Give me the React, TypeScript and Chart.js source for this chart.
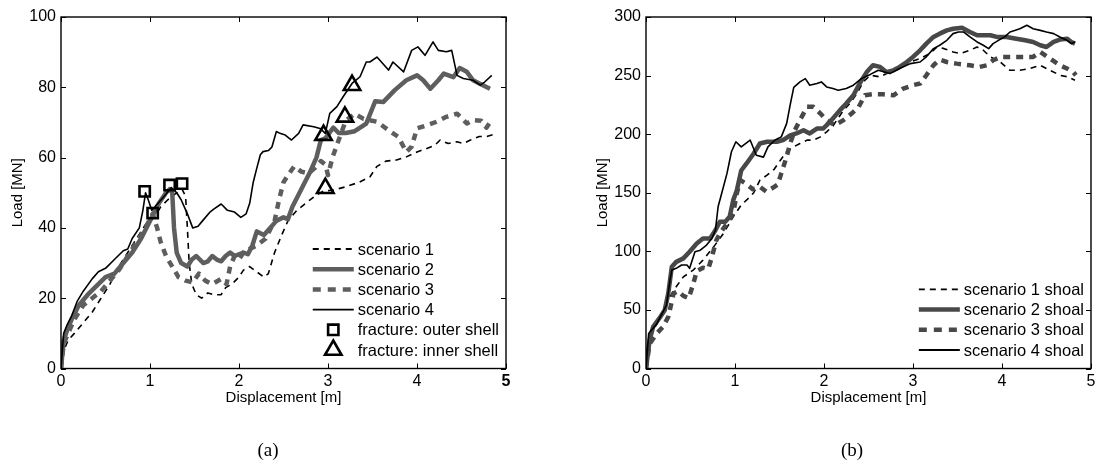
import React, { useEffect, useRef } from 'react';
import { Chart, registerables } from 'chart.js';

Chart.register(...registerables);

const FONT = "'Liberation Sans', Arial, Helvetica, sans-serif";

type Pt = [number, number];

// ---------- (a) ----------
const scenario1A: Pt[] = [[0,0],[0.03,5],[0.08,8],[0.15,10],[0.25,13],[0.35,16],[0.45,20],[0.55,24],[0.65,29],[0.75,33],[0.85,37],[0.95,41],[1.05,43],[1.12,46],[1.2,48],[1.3,50],[1.36,51],[1.4,49],[1.42,40],[1.44,30],[1.47,24],[1.52,21],[1.58,20],[1.65,21.5],[1.72,21],[1.8,21],[1.85,23],[1.92,24],[2.0,26],[2.05,28],[2.12,29],[2.2,27.5],[2.28,26],[2.33,27],[2.4,33],[2.48,38],[2.55,42],[2.65,45],[2.75,47],[2.85,49],[2.95,50.5],[3.05,50.7],[3.2,51.7],[3.35,53],[3.47,54.5],[3.55,57.5],[3.65,59],[3.77,59.3],[3.88,60.2],[4.0,61.6],[4.11,62.6],[4.2,63.5],[4.26,65],[4.35,64],[4.45,64.5],[4.52,64],[4.6,65],[4.7,66],[4.78,66],[4.85,66.5]];
const scenario2A: Pt[] = [[0,0],[0.03,8],[0.07,11],[0.12,14],[0.2,18],[0.3,21],[0.4,23.5],[0.5,26],[0.6,27],[0.7,30],[0.8,33],[0.9,37],[1.0,42],[1.1,47],[1.18,50],[1.22,51],[1.25,50],[1.27,40],[1.3,33],[1.35,30],[1.42,29],[1.47,31],[1.52,32],[1.6,30],[1.65,30.5],[1.7,32],[1.75,31],[1.8,30.5],[1.85,32],[1.9,33],[1.95,32],[2.0,32.5],[2.05,33],[2.1,32.5],[2.15,35],[2.2,39],[2.28,38],[2.35,40],[2.42,42],[2.5,43],[2.55,42.5],[2.6,46],[2.7,51],[2.8,56],[2.87,60],[2.92,65],[2.97,65.5],[3.06,68.5],[3.12,67],[3.2,67],[3.3,67.5],[3.43,69.7],[3.53,76],[3.62,75.8],[3.75,79.2],[3.88,82],[4.0,83.4],[4.07,82],[4.15,79.6],[4.24,82],[4.3,83.9],[4.41,82.9],[4.48,85.5],[4.56,84.4],[4.63,82],[4.74,80.6],[4.82,79.6]];
const scenario3A: Pt[] = [[0,0],[0.03,7],[0.08,10],[0.15,14],[0.25,18],[0.35,20],[0.45,22],[0.55,25],[0.65,28],[0.75,32],[0.85,36],[0.95,40],[1.03,44],[1.08,40],[1.12,36],[1.18,32],[1.25,29],[1.32,26],[1.4,25],[1.48,24.5],[1.55,27],[1.62,25],[1.7,24],[1.8,25.5],[1.86,24],[1.9,29],[1.95,32],[2.0,31],[2.05,33],[2.12,34],[2.2,35],[2.3,37],[2.4,42],[2.45,48],[2.5,53],[2.55,55],[2.62,57.5],[2.7,56],[2.78,55.5],[2.85,57],[2.92,59],[2.97,58],[3.0,55],[3.05,60],[3.12,65],[3.2,70.5],[3.3,72.5],[3.4,71],[3.55,70.2],[3.68,67.8],[3.79,65.9],[3.88,61.6],[3.94,63.1],[4.0,68.3],[4.11,69.2],[4.22,70.2],[4.33,71.6],[4.45,72.5],[4.56,69.7],[4.63,70.7],[4.72,70.5],[4.78,68.5],[4.82,70],[4.85,69]];
const scenario4A: Pt[] = [[0,0],[0.03,10],[0.07,12.5],[0.12,15],[0.18,19],[0.25,22],[0.35,25.5],[0.42,27.5],[0.5,28.5],[0.6,31],[0.7,33.5],[0.75,34],[0.8,37],[0.88,40],[0.92,45],[0.95,50],[0.98,48],[1.02,45],[1.09,47],[1.16,49],[1.24,51.5],[1.3,50],[1.35,48],[1.42,44],[1.48,40],[1.54,40.5],[1.59,42],[1.67,44.4],[1.72,45.4],[1.8,46.8],[1.87,45],[1.95,44.5],[2.02,43],[2.08,44],[2.12,47],[2.16,53],[2.2,57],[2.24,60.8],[2.27,61.7],[2.33,62],[2.37,63],[2.42,67.4],[2.46,66.9],[2.52,66.4],[2.59,65],[2.67,66.9],[2.72,69.3],[2.84,68.8],[2.91,68.3],[2.97,66.9],[3.02,72.6],[3.1,74.5],[3.17,77.3],[3.27,81.1],[3.36,83],[3.43,87.2],[3.47,87.2],[3.55,88.6],[3.68,84.9],[3.73,87.2],[3.85,84.4],[3.94,90.5],[4.01,91.5],[4.09,89.1],[4.18,92.9],[4.24,90.5],[4.33,90.1],[4.39,90.5],[4.45,83.4],[4.52,82.5],[4.63,82],[4.71,80.6],[4.76,81.5],[4.84,83.4]];
const outerShellA: Pt[] = [[0.94,50.4],[1.03,44.2],[1.22,52.2],[1.36,52.6]];
const innerShellA: Pt[] = [[2.95,66.4],[3.19,71.6],[3.27,80.6],[2.97,51.3]];

// ---------- (b) ----------
const scenario1B: Pt[] = [[0,0],[0.04,26.5],[0.1,35],[0.17,45],[0.23,55],[0.31,66.8],[0.42,78.2],[0.53,83.9],[0.64,92.5],[0.76,103.8],[0.87,115.2],[0.98,129.5],[1.07,139.5],[1.17,146.6],[1.21,150],[1.28,160.8],[1.36,165],[1.44,170],[1.51,177.8],[1.58,185],[1.66,189.2],[1.73,192],[1.81,194.9],[1.88,194.9],[1.96,197.7],[2.03,202],[2.1,207],[2.22,220.5],[2.29,226.1],[2.37,234.7],[2.44,244.6],[2.52,250.3],[2.63,248.9],[2.74,253.1],[2.85,257.4],[2.97,261.6],[3.08,264.5],[3.19,268.8],[3.27,274.4],[3.35,273],[3.45,270.2],[3.53,268.8],[3.64,271.6],[3.72,274.4],[3.79,271.6],[3.87,265.9],[3.98,261.6],[4.09,254.5],[4.2,254.5],[4.31,256],[4.43,258.8],[4.54,254.5],[4.65,250.3],[4.74,248.9],[4.82,246]];
const scenario2B: Pt[] = [[0,0],[0.04,24],[0.08,35.5],[0.16,44],[0.21,49.7],[0.25,64],[0.29,86.8],[0.34,91],[0.42,94],[0.49,99.6],[0.57,106.7],[0.64,111],[0.72,111],[0.78,118],[0.83,125.2],[0.89,125.2],[0.94,129.5],[0.98,143.7],[1.02,152],[1.07,169],[1.13,175],[1.21,183.5],[1.28,192],[1.36,193.5],[1.47,193.5],[1.54,195],[1.62,199],[1.69,200.6],[1.77,203.4],[1.84,200.6],[1.92,204.8],[1.99,204.8],[2.03,207.7],[2.1,213.4],[2.18,220.5],[2.25,226.1],[2.33,233.2],[2.4,243.2],[2.48,253],[2.55,258.8],[2.63,257.4],[2.7,253],[2.78,254.5],[2.85,257.4],[2.93,261.6],[3.0,265.9],[3.08,271.6],[3.15,277.3],[3.23,283],[3.3,285.8],[3.38,288.6],[3.45,290],[3.55,290.9],[3.64,287.2],[3.72,284.4],[3.79,284.4],[3.87,284.4],[3.94,283],[4.05,283],[4.16,281.5],[4.26,280.1],[4.35,278.7],[4.43,275.9],[4.5,274.4],[4.58,278.7],[4.65,280.7],[4.73,281.5],[4.78,278.7],[4.82,277.3]];
const scenario3B: Pt[] = [[0,0],[0.04,21],[0.12,29.8],[0.19,35.5],[0.25,44],[0.31,64],[0.36,66],[0.42,62],[0.48,60],[0.53,72],[0.57,83.2],[0.64,86],[0.7,85],[0.74,95],[0.79,109.5],[0.83,115.2],[0.91,123.8],[0.98,132.3],[1.02,149.4],[1.06,160.8],[1.12,158],[1.2,153],[1.28,155],[1.35,151],[1.42,154],[1.48,157],[1.52,166.5],[1.58,180.7],[1.62,192],[1.67,203],[1.73,212],[1.81,223.3],[1.88,223.3],[1.96,217.6],[2.03,212],[2.12,207.7],[2.22,212],[2.31,217.6],[2.39,223.3],[2.46,233.2],[2.55,234.1],[2.66,234.1],[2.78,233.2],[2.89,238.9],[3.0,241.8],[3.08,243.2],[3.15,250.3],[3.23,258.8],[3.3,263.6],[3.38,261.6],[3.49,260.2],[3.64,258.8],[3.75,257.4],[3.83,258.8],[3.9,263.1],[3.99,265.9],[4.11,265.9],[4.24,265.9],[4.35,265.9],[4.43,270.2],[4.54,264.5],[4.65,258.8],[4.73,256],[4.8,253.1],[4.83,250.3]];
const scenario4B: Pt[] = [[0,0],[0.03,29.8],[0.06,32.6],[0.12,38],[0.18,46.9],[0.23,54],[0.27,75.4],[0.29,84],[0.34,85.5],[0.4,88.3],[0.46,88.3],[0.49,85.5],[0.55,99.6],[0.61,101],[0.68,105.3],[0.74,111],[0.78,118],[0.81,138],[0.85,149.4],[0.91,166.5],[0.96,185],[1.01,193.5],[1.07,189.2],[1.17,195],[1.24,182],[1.32,180.4],[1.37,189.2],[1.45,195],[1.52,197.7],[1.58,209],[1.62,225],[1.66,240],[1.73,244.6],[1.79,247.4],[1.84,241.8],[1.92,243.2],[1.97,244.6],[2.03,240.3],[2.1,238.9],[2.16,237.5],[2.25,238.9],[2.33,241.8],[2.42,247.4],[2.52,251],[2.61,254.5],[2.74,251.7],[2.85,256],[2.97,260.2],[3.08,261.6],[3.15,266],[3.23,273],[3.3,275.9],[3.38,280.1],[3.45,285.8],[3.51,287.2],[3.57,287.2],[3.64,283],[3.72,278.7],[3.79,275.9],[3.85,273],[3.9,277.3],[3.96,280.1],[4.03,283],[4.09,287.2],[4.15,288.6],[4.2,290],[4.28,292.9],[4.35,290],[4.43,288.6],[4.5,287.2],[4.58,285.8],[4.65,283],[4.73,280.1],[4.78,277.3],[4.82,278.7]];

const xTicks = [0, 1, 2, 3, 4, 5];
const yTicksA = [0, 20, 40, 60, 80, 100];
const yTicksB = [0, 50, 100, 150, 200, 250, 300];
const labelsA = ['scenario 1', 'scenario 2', 'scenario 3', 'scenario 4', 'fracture: outer shell', 'fracture: inner shell'];
const labelsB = ['scenario 1 shoal', 'scenario 2 shoal', 'scenario 3 shoal', 'scenario 4 shoal'];

const toXY = (pts: Pt[]) => pts.map(([x, y]) => ({ x, y }));

const framePlugin = {
  id: 'frameTicks',
  afterDatasetsDraw(chart: any) {
    const { ctx, chartArea: a, scales } = chart;
    ctx.save();
    ctx.strokeStyle = '#000';
    ctx.lineWidth = 1.4;
    ctx.setLineDash([]);
    ctx.strokeRect(a.left, a.top, a.right - a.left, a.bottom - a.top);
    const L = 5;
    ctx.lineWidth = 1;
    ctx.beginPath();
    scales.x.ticks.forEach((t: any) => {
      const p = Math.round(scales.x.getPixelForValue(t.value)) + 0.5;
      ctx.moveTo(p, a.bottom); ctx.lineTo(p, a.bottom - L);
      ctx.moveTo(p, a.top); ctx.lineTo(p, a.top + L);
    });
    scales.y.ticks.forEach((t: any) => {
      const p = Math.round(scales.y.getPixelForValue(t.value)) + 0.5;
      ctx.moveTo(a.left, p); ctx.lineTo(a.left + L, p);
      ctx.moveTo(a.right, p); ctx.lineTo(a.right - L, p);
    });
    ctx.stroke();
    ctx.restore();
  },
};

function drawMarker(ctx: CanvasRenderingContext2D, style: string, x: number, y: number, r: number) {
  ctx.beginPath();
  if (style === 'rect') {
    const h = r / Math.SQRT2;
    ctx.rect(x - h, y - h, 2 * h, 2 * h);
  } else {
    let rad = 0;
    ctx.moveTo(x + Math.sin(rad) * r, y - Math.cos(rad) * r);
    rad += (2 * Math.PI) / 3;
    ctx.lineTo(x + Math.sin(rad) * r, y - Math.cos(rad) * r);
    rad += (2 * Math.PI) / 3;
    ctx.lineTo(x + Math.sin(rad) * r, y - Math.cos(rad) * r);
    ctx.closePath();
  }
  ctx.stroke();
}

const legendPlugin = {
  id: 'boxLegend',
  afterDraw(chart: any, _args: any, opts: any) {
    const items = opts && opts.items;
    if (!items) return;
    const { ctx, chartArea: a } = chart;
    ctx.save();
    ctx.font = `${opts.fontSize}px ${FONT}`;
    const maxW = Math.max(...items.map((i: any) => ctx.measureText(i.label).width));
    const lineLen = 41;
    const gap = 4;
    const left = a.right - opts.rightGap - maxW - gap - lineLen;
    const n = items.length;
    items.forEach((it: any, i: number) => {
      const y = a.bottom - opts.bottomGap - (n - 1 - i) * opts.rowH;
      ctx.strokeStyle = it.color;
      if (it.kind === 'line') {
        ctx.beginPath();
        ctx.setLineDash(it.dash || []);
        ctx.lineWidth = it.width;
        ctx.lineCap = 'butt';
        ctx.moveTo(left, y);
        ctx.lineTo(left + lineLen, y);
        ctx.stroke();
        ctx.setLineDash([]);
      } else {
        ctx.lineWidth = it.width;
        ctx.lineJoin = 'miter';
        drawMarker(ctx, it.style, left + lineLen / 2, y, it.radius);
      }
      ctx.fillStyle = '#000';
      ctx.textBaseline = 'middle';
      ctx.textAlign = 'left';
      ctx.fillText(it.label, left + lineLen + gap, y + 1);
    });
    ctx.restore();
  },
};

const DASH1 = [6, 5];
const DASH3 = [7, 6];

function lineDs(label: string, pts: Pt[], color: string, width: number, dash: number[], order: number) {
  return {
    label,
    data: toXY(pts),
    borderColor: color,
    borderWidth: width,
    borderDash: dash,
    borderCapStyle: 'butt',
    borderJoinStyle: 'round',
    pointRadius: 0,
    tension: 0,
    fill: false,
    order,
  };
}

function markerDs(label: string, pts: Pt[], style: string, r: number) {
  return {
    label,
    data: toXY(pts),
    showLine: false,
    pointStyle: style,
    pointRadius: r,
    pointBorderWidth: 2.6,
    pointBorderColor: '#000',
    pointBackgroundColor: 'rgba(0,0,0,0)',
    borderColor: '#000',
    order: 0,
  };
}

function buildConfig(which: 'a' | 'b'): any {
  const gray = which === 'a' ? '#5e5e5e' : '#484848';
  const s = which === 'a'
    ? [scenario1A, scenario2A, scenario3A, scenario4A]
    : [scenario1B, scenario2B, scenario3B, scenario4B];
  const labels = which === 'a' ? labelsA : labelsB;
  const datasets: any[] = [
    lineDs(labels[0], s[0], '#000', 1.6, DASH1, 4),
    lineDs(labels[1], s[1], gray, 4.5, [], 3),
    lineDs(labels[2], s[2], gray, 4.5, DASH3, 2),
    lineDs(labels[3], s[3], '#000', 1.6, [], 1),
  ];
  const items: any[] = [
    { kind: 'line', label: labels[0], color: '#000', width: 1.8, dash: DASH1 },
    { kind: 'line', label: labels[1], color: gray, width: 4.5, dash: [] },
    { kind: 'line', label: labels[2], color: gray, width: 4.5, dash: [8, 7] },
    { kind: 'line', label: labels[3], color: '#000', width: 1.8, dash: [] },
  ];
  if (which === 'a') {
    datasets.push(markerDs(labels[4], outerShellA, 'rect', 7.3));
    datasets.push(markerDs(labels[5], innerShellA, 'triangle', 9.5));
    items.push({ kind: 'marker', label: labels[4], color: '#000', width: 2.6, style: 'rect', radius: 7.3 });
    items.push({ kind: 'marker', label: labels[5], color: '#000', width: 2.6, style: 'triangle', radius: 9.5 });
  }
  const yTicks = which === 'a' ? yTicksA : yTicksB;
  const titleFont = { family: FONT, size: 15 };
  return {
    type: 'line',
    data: { datasets },
    plugins: [framePlugin, legendPlugin],
    options: {
      animation: false,
      responsive: false,
      events: [],
      layout: { autoPadding: false, padding: { top: 17, bottom: 54.5, left: 0, right: 6 } },
      plugins: {
        legend: { display: false },
        tooltip: { enabled: false },
        title: { display: false },
        boxLegend: {
          items,
          fontSize: 16.5,
          rightGap: 7,
          bottomGap: 18.5,
          rowH: 20.2,
        },
      },
      scales: {
        x: {
          type: 'linear',
          min: 0,
          max: 5,
          afterBuildTicks: (sc: any) => { sc.ticks = xTicks.map((v) => ({ value: v })); },
          afterFit: (sc: any) => { sc.height = 40; sc.paddingLeft = 0; sc.paddingRight = 0; },
          grid: { display: false, drawTicks: false },
          border: { display: false },
          ticks: {
            color: '#000',
            padding: 3,
            maxRotation: 0,
            autoSkip: false,
            font: (c: any) =>
              which === 'a' && c.tick && c.tick.value === 5
                ? { family: FONT, size: 16, weight: 'bold' }
                : { family: FONT, size: 16 },
            callback: (v: any) => String(v),
          },
          title: {
            display: true,
            text: 'Displacement [m]',
            color: '#000',
            font: titleFont,
            padding: { top: 0, bottom: 1.5 },
          },
        },
        y: {
          type: 'linear',
          min: 0,
          max: yTicks[yTicks.length - 1],
          afterBuildTicks: (sc: any) => { sc.ticks = yTicks.map((v) => ({ value: v })); },
          afterFit: (sc: any) => { sc.width = 61; sc.paddingTop = 0; sc.paddingBottom = 0; },
          grid: { display: false, drawTicks: false },
          border: { display: false },
          ticks: {
            color: '#000',
            padding: 5,
            autoSkip: false,
            font: { family: FONT, size: 16 },
            callback: (v: any) => String(v),
          },
          title: {
            display: true,
            text: 'Load [MN]',
            color: '#000',
            font: titleFont,
            padding: { top: 9, bottom: 0 },
          },
        },
      },
    },
  };
}

function Panel({ which, left }: { which: 'a' | 'b'; left: number }) {
  const ref = useRef<HTMLCanvasElement | null>(null);
  useEffect(() => {
    if (!ref.current) return;
    const chart = new Chart(ref.current, buildConfig(which));
    return () => chart.destroy();
  }, [which]);
  return (
    <canvas
      ref={ref}
      width={512}
      height={463}
      style={{ position: 'absolute', left, top: 0, width: 512, height: 463, display: 'block' }}
    />
  );
}

const captionStyle: React.CSSProperties = {
  position: 'absolute',
  top: 438,
  width: 100,
  textAlign: 'center',
  fontFamily: "'Liberation Serif', 'DejaVu Serif', serif",
  fontSize: 19,
  lineHeight: '24px',
  color: '#000',
};

export default function App() {
  return (
    <div style={{ position: 'absolute', left: 0, top: 0, width: 1097, height: 463, background: '#fff', overflow: 'hidden' }}>
      <Panel which="a" left={0} />
      <Panel which="b" left={585} />
      <div style={{ ...captionStyle, left: 268 - 50 }}>(a)</div>
      <div style={{ ...captionStyle, left: 852 - 50 }}>(b)</div>
    </div>
  );
}
